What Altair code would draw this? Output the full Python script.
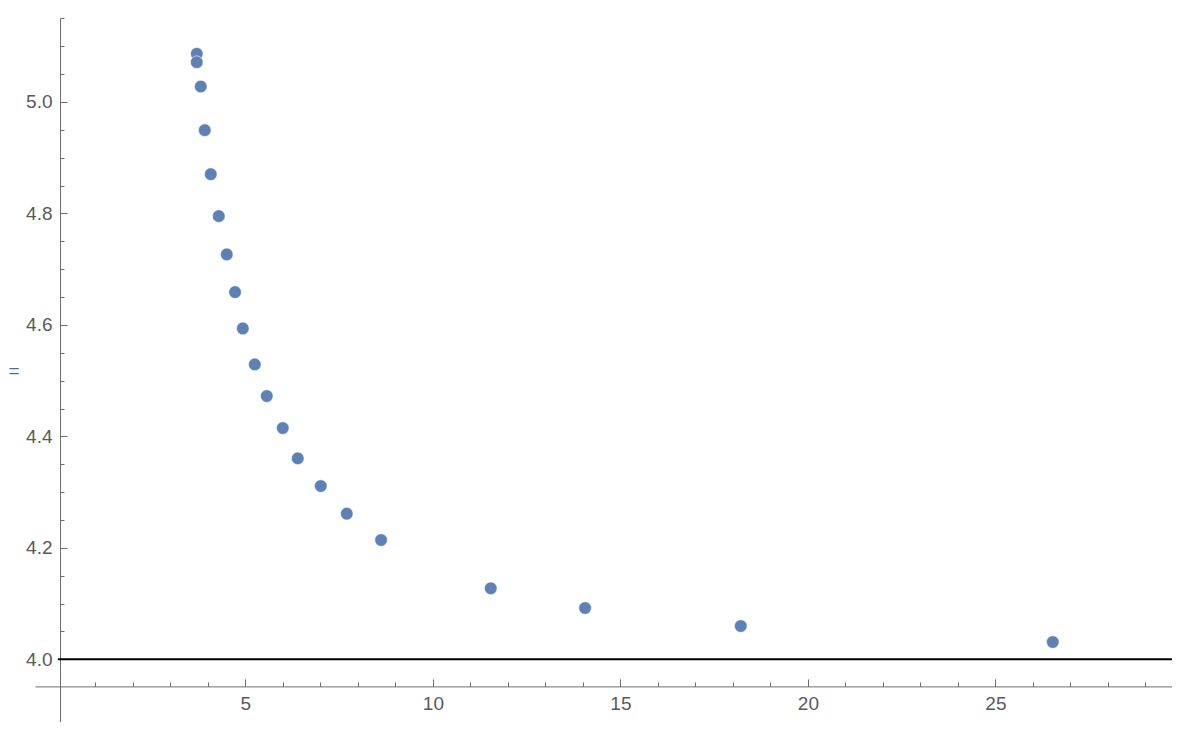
import altair as alt
import pandas as pd

# ---- data ----
x_vals = [3.704, 3.704, 3.811, 3.917, 4.077, 4.291, 4.504, 4.725, 4.931, 5.251,
          5.571, 5.997, 6.397, 7.011, 7.704, 8.619, 11.544, 14.059, 18.211, 26.531]
y_vals = [5.0865, 5.0714, 5.0278, 4.9494, 4.8705, 4.7952, 4.7265, 4.6588, 4.5937, 4.5291,
          4.4723, 4.4149, 4.3605, 4.3109, 4.2613, 4.2140, 4.1274, 4.0920, 4.0597, 4.0310]

ref_level = [4.0]
y_title = ["="]

x_major = [5, 10, 15, 20, 25]
x_minor = [1, 2, 3, 4, 6, 7, 8, 9, 11, 12, 13, 14, 16, 17, 18, 19, 21, 22, 23, 24,
           26, 27, 28, 29]
y_major = [4.0, 4.2, 4.4, 4.6, 4.8, 5.0]
y_minor = [4.05, 4.1, 4.15, 4.25, 4.3, 4.35, 4.45, 4.5, 4.55, 4.65, 4.7, 4.75,
           4.85, 4.9, 4.95, 5.05, 5.1, 5.15]

x_domain = [-0.61, 29.71]
y_domain = [3.8875, 5.1507]

# ---- styling ----
W, H = 1137, 704
AX_X = 25          # y axis position inside plot (px)
AX_Y = 668.4       # x axis position inside plot (px)
AXIS_COLOR = "#6e6e6e"
LABEL_COLOR = "#5a5a5a"
FONT = "Liberation Sans"
FS = 19

df = pd.DataFrame({"x": x_vals, "y": y_vals})
line_df = pd.DataFrame({"x": [0.0], "x2": [x_domain[1]], "y": ref_level})
title_df = pd.DataFrame({"t": y_title})

xs = alt.Scale(domain=x_domain, nice=False, zero=False)
ys = alt.Scale(domain=y_domain, nice=False, zero=False)

# labels + domain lines
x_lab_axis = alt.Axis(values=x_major, orient="bottom", offset=-(H - AX_Y), ticks=False,
                      tickSize=0, labelPadding=8, grid=False, title=None,
                      domainColor=AXIS_COLOR, domainWidth=1, labelColor=LABEL_COLOR,
                      labelFont=FONT, labelFontSize=FS, labelFlush=False)
y_lab_axis = alt.Axis(values=y_major, format=".1f", orient="left", offset=-AX_X,
                      ticks=False, tickSize=0, labelPadding=8, grid=False,
                      domainColor=AXIS_COLOR, domainWidth=1, labelColor=LABEL_COLOR,
                      labelFont=FONT, labelFontSize=FS, title=None)

# major ticks pointing into the plot
x_maj_axis = alt.Axis(values=x_major, orient="top", offset=-AX_Y, labels=False,
                      domain=False, ticks=True, tickSize=7.5, tickWidth=1,
                      tickColor=AXIS_COLOR, grid=False, title=None)
y_maj_axis = alt.Axis(values=y_major, orient="right", offset=-(W - AX_X), labels=False,
                      domain=False, ticks=True, tickSize=7, tickWidth=1,
                      tickColor=AXIS_COLOR, grid=False, title=None)
# minor ticks
x_min_axis = alt.Axis(values=x_minor, orient="top", offset=-AX_Y, labels=False,
                      domain=False, ticks=True, tickSize=4.5, tickWidth=1,
                      tickColor=AXIS_COLOR, grid=False, title=None)
y_min_axis = alt.Axis(values=y_minor, orient="right", offset=-(W - AX_X), labels=False,
                      domain=False, ticks=True, tickSize=4, tickWidth=1,
                      tickColor=AXIS_COLOR, grid=False, title=None)

hline = alt.Chart(line_df).mark_rule(color="black", strokeWidth=2).encode(
    x=alt.X("x:Q", scale=xs, axis=x_maj_axis),
    x2="x2:Q",
    y=alt.Y("y:Q", scale=ys, axis=y_maj_axis),
)

minor = alt.Chart(line_df).mark_rule(strokeOpacity=0).encode(
    x=alt.X("x:Q", scale=xs, axis=x_min_axis),
    x2="x2:Q",
    y=alt.Y("y:Q", scale=ys, axis=y_min_axis),
)

points = alt.Chart(df).mark_circle(size=160, color="#5E81B5", opacity=1,
                                   stroke="white", strokeWidth=0.6).encode(
    x=alt.X("x:Q", scale=xs, axis=x_lab_axis),
    y=alt.Y("y:Q", scale=ys, axis=y_lab_axis),
)

# axis label at the far left (kept fully inside the drawing area)
ylabel = alt.Chart(title_df).mark_text(
    font=FONT, fontSize=FS, color="#4f6f9e", align="left", baseline="middle"
).encode(
    text="t:N",
    x=alt.value(-26.5),
    y=alt.value(352.7),
)

chart = alt.layer(hline, minor, points, ylabel).resolve_axis(
    x="independent", y="independent"
).properties(
    width=W, height=H, autosize="none",
    padding={"left": 27, "top": 10, "right": 0, "bottom": 0},
).configure_view(stroke=None)

chart.save("out.html", embed_options={"renderer": "svg", "actions": False})
